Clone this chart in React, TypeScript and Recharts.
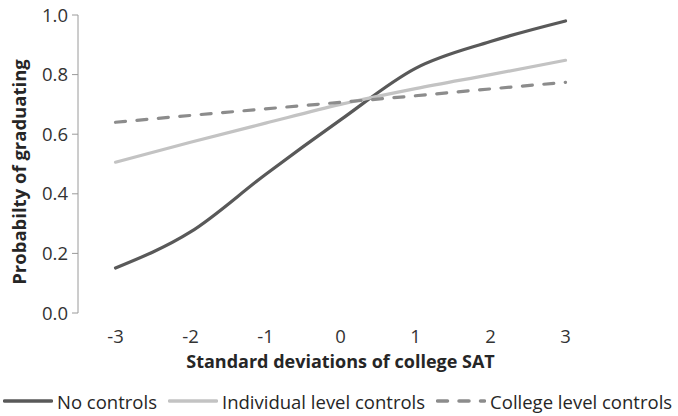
import { LineChart, Line, XAxis, YAxis, Legend } from 'recharts'

const FONT = '"Open Sans", sans-serif'

// x categories (standard deviations of college SAT)
const sdValues = [-3, -2, -1, 0, 1, 2, 3]
// category boundaries, where Excel puts the tick marks
const sdBoundaries = [-3.5, -2.5, -1.5, -0.5, 0.5, 1.5, 2.5, 3.5]
const yTicks = [0, 0.2, 0.4, 0.6, 0.8, 1.0]

const noControls = [0.151, 0.272, 0.465, 0.648, 0.821, 0.911, 0.98]
const individualControls = [0.506, 0.573, 0.637, 0.7, 0.753, 0.8, 0.848]
const collegeControls = [0.64, 0.663, 0.685, 0.707, 0.729, 0.752, 0.774]

const series = [
  { key: 'none', name: 'No controls', color: '#595959', dash: undefined },
  { key: 'individual', name: 'Individual level controls', color: '#c3c3c3', dash: undefined },
  { key: 'college', name: 'College level controls', color: '#8c8c8c', dash: '10 11.5' },
]

const data = sdValues.map((sd, i) => ({
  sd,
  none: noControls[i],
  individual: individualControls[i],
  college: collegeControls[i],
}))

function LegendContent() {
  return (
    <div
      style={{
        display: 'flex',
        alignItems: 'center',
        height: 24,
        paddingLeft: 3,
        fontFamily: FONT,
        fontSize: 18.5,
        color: '#262626',
        whiteSpace: 'nowrap',
      }}
    >
      {series.map((s) => (
        <div key={s.key} style={{ display: 'flex', alignItems: 'center', marginRight: 11 }}>
          <svg width={50} height={10}>
            <line
              x1={1.5}
              y1={5}
              x2={48.5}
              y2={5}
              stroke={s.color}
              strokeWidth={3.5}
              strokeLinecap="round"
              strokeDasharray={s.dash}
            />
          </svg>
          <span style={{ marginLeft: 4 }}>{s.name}</span>
        </div>
      ))}
    </div>
  )
}

// rotated y-axis title, centred a little below the middle of the plot like the original
function YTitle({ viewBox }: any) {
  const x = 18
  const y = viewBox.y + viewBox.height / 2 + 8
  return (
    <text
      x={x}
      y={y}
      transform={`rotate(-90, ${x}, ${y})`}
      textAnchor="middle"
      dominantBaseline="central"
      style={{ fontFamily: FONT, fontWeight: 'bold', fontSize: 18.5, fill: '#262626' }}
    >
      Probabilty of graduating
    </text>
  )
}

export default function App() {
  return (
    <div style={{ position: 'absolute', left: 0, top: 0, width: 678, height: 416, background: '#fff' }}>
      <LineChart
        width={678}
        height={416}
        data={data}
        margin={{ top: 15, right: 75, left: 0, bottom: 19 }}
        style={{ fontFamily: FONT }}
      >
        <YAxis
          domain={[0, 1]}
          ticks={yTicks}
          tickFormatter={(v) => v.toFixed(1)}
          width={78}
          tickSize={6}
          tickMargin={4}
          stroke="#9a9a9a"
          tick={{ fill: '#333', fontSize: 18.5 }}
          label={<YTitle />}
        />
        <XAxis
          xAxisId="marks"
          type="number"
          dataKey="sd"
          domain={[-3.5, 3.5]}
          ticks={sdBoundaries}
          tick={false}
          tickSize={6}
          height={0}
          stroke="#9a9a9a"
        />
        <XAxis
          xAxisId="labels"
          type="number"
          dataKey="sd"
          domain={[-3.5, 3.5]}
          ticks={sdValues}
          axisLine={false}
          tickLine={false}
          tickSize={0}
          tickMargin={17}
          height={60}
          tick={{ fill: '#333', fontSize: 18.5 }}
          label={{
            value: 'Standard deviations of college SAT',
            position: 'insideBottom',
            offset: 5,
            style: { fontWeight: 'bold', fontSize: 18, fill: '#262626' },
          }}
        />
        {series.map((s) => (
          <Line
            key={s.key}
            xAxisId="labels"
            type="monotone"
            dataKey={s.key}
            name={s.name}
            stroke={s.color}
            strokeWidth={3.2}
            strokeDasharray={s.dash}
            strokeLinecap="round"
            dot={false}
            activeDot={false}
            isAnimationActive={false}
          />
        ))}
        <Legend
          verticalAlign="bottom"
          content={() => <LegendContent />}
          wrapperStyle={{ left: 0, bottom: 3, width: 678 }}
        />
      </LineChart>
    </div>
  )
}
